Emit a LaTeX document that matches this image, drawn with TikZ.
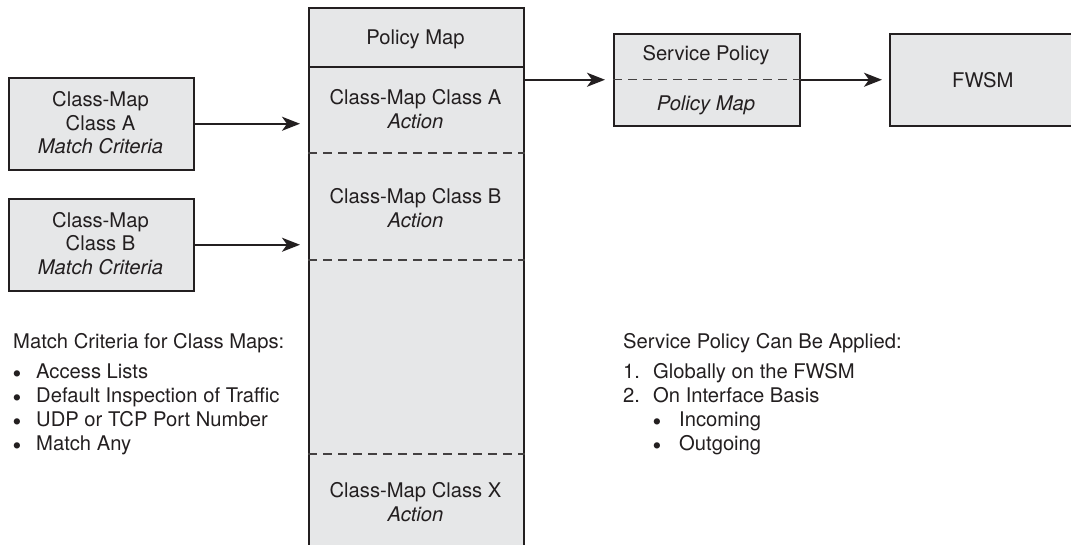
\documentclass[tikz,border=0pt]{standalone}
\usepackage{fontspec}
\setmainfont{TeX Gyre Heros}
\usetikzlibrary{arrows.meta,calc}
\definecolor{boxfill}{HTML}{E6E7E8}
\definecolor{ink}{HTML}{231F20}
\begin{document}
\begin{tikzpicture}[x=1pt,y=-1pt,
  every node/.style={font=\fontsize{20.2}{24}\selectfont, text=ink},
  box/.style={draw=ink, fill=boxfill, line width=1.5pt, inner sep=0pt, anchor=north west},
  lbl/.style={anchor=base, inner sep=0pt},
  lft/.style={anchor=base west, inner sep=0pt},
  bul/.style={anchor=base west, inner sep=0pt, font=\fontsize{25}{24}\selectfont},
  solidline/.style={draw=ink, line width=1.5pt},
  divider/.style={draw=ink!85, line width=1.1pt, dash pattern=on 9pt off 6pt},
  arr/.style={draw=ink, line width=1.9pt, -{Stealth[length=18pt,width=14pt,inset=5pt]}}]

\useasboundingbox (0,0) rectangle (1071,544);

% helper coordinates for horizontal rules
\coordinate (y67) at (0,67);
\coordinate (y153) at (0,153);
\coordinate (y260) at (0,260);
\coordinate (y454) at (0,454);

% Policy map column
\node[box, minimum width=215pt, minimum height=542pt] (pm) at (308,7) {};
\draw[solidline] (pm.west |- y67) -- (pm.east |- y67);
\draw[divider] (pm.west |- y153) -- (pm.east |- y153);
\draw[divider] (pm.west |- y260) -- (pm.east |- y260);
\draw[divider] (pm.west |- y454) -- (pm.east |- y454);

\node[lbl] (pmtitle) at (415.5,44) {Policy Map};
\node[lbl] (caA) at (415.5,104) {Class-Map Class A};
\node[lbl] (actA) at (415.5,128) {\itshape Action};
\node[lbl] (caB) at (415.5,203) {Class-Map Class B};
\node[lbl] (actB) at (415.5,227) {\itshape Action};
\node[lbl] (caX) at (415.5,497) {Class-Map Class X};
\node[lbl] (actX) at (415.5,521) {\itshape Action};

% Class-map boxes
\node[box, minimum width=185pt, minimum height=92pt] (cmA) at (8,77) {};
\node[lbl] (cmA1) at (100.5,106) {Class-Map};
\node[lbl] (cmA2) at (100.5,130) {Class A};
\node[lbl] (cmA3) at (100.5,153) {\itshape Match Criteria};

\node[box, minimum width=185pt, minimum height=92pt] (cmB) at (8,198) {};
\node[lbl] (cmB1) at (100.5,227) {Class-Map};
\node[lbl] (cmB2) at (100.5,250) {Class B};
\node[lbl] (cmB3) at (100.5,274) {\itshape Match Criteria};

\draw[arr, shorten >=8pt] (cmA.east) -- (cmA.east -| pm.west);
\draw[arr, shorten >=8pt] (cmB.east) -- (cmB.east -| pm.west);

% Service policy box
\node[box, minimum width=186pt, minimum height=92pt] (svc) at (613,33) {};
\draw[divider] (svc.west) -- (svc.east);
\node[lbl] (svc1) at (706,60) {Service Policy};
\node[lbl] (svc2) at (706,110) {\itshape Policy Map};

% FWSM box
\node[box, minimum width=186pt, minimum height=92pt] (fwsm) at (889,33) {};
\node (fwsmt) at (fwsm.center) {FWSM};

\draw[arr, shorten >=8pt] (svc.west -| pm.east) -- (svc.west);
\draw[arr, shorten >=7pt] (svc.east) -- (fwsm.west);

% Left list
\node[lft] (lh) at (13,348) {Match Criteria for Class Maps:};
\node[bul] (lb1) at (12.5,382) {•};
\node[lft] (lt1) at (36,378) {Access Lists};
\node[bul] (lb2) at (12.5,406) {•};
\node[lft] (lt2) at (36,402) {Default Inspection of Traffic};
\node[bul] (lb3) at (12.5,430) {•};
\node[lft] (lt3) at (36,426) {UDP or TCP Port Number};
\node[bul] (lb4) at (12.5,454) {•};
\node[lft] (lt4) at (36,450) {Match Any};

% Right list
\node[lft] (rh) at (623,348) {Service Policy Can Be Applied:};
\node[lft] (rn1) at (623,378) {1.};
\node[lft] (rt1) at (653,378) {Globally on the FWSM};
\node[lft] (rn2) at (623,402) {2.};
\node[lft] (rt2) at (653,402) {On Interface Basis};
\node[bul] (rb1) at (652.5,430) {•};
\node[lft] (rs1) at (679,426) {Incoming};
\node[bul] (rb2) at (652.5,454) {•};
\node[lft] (rs2) at (679,450) {Outgoing};
\end{tikzpicture}
\end{document}
